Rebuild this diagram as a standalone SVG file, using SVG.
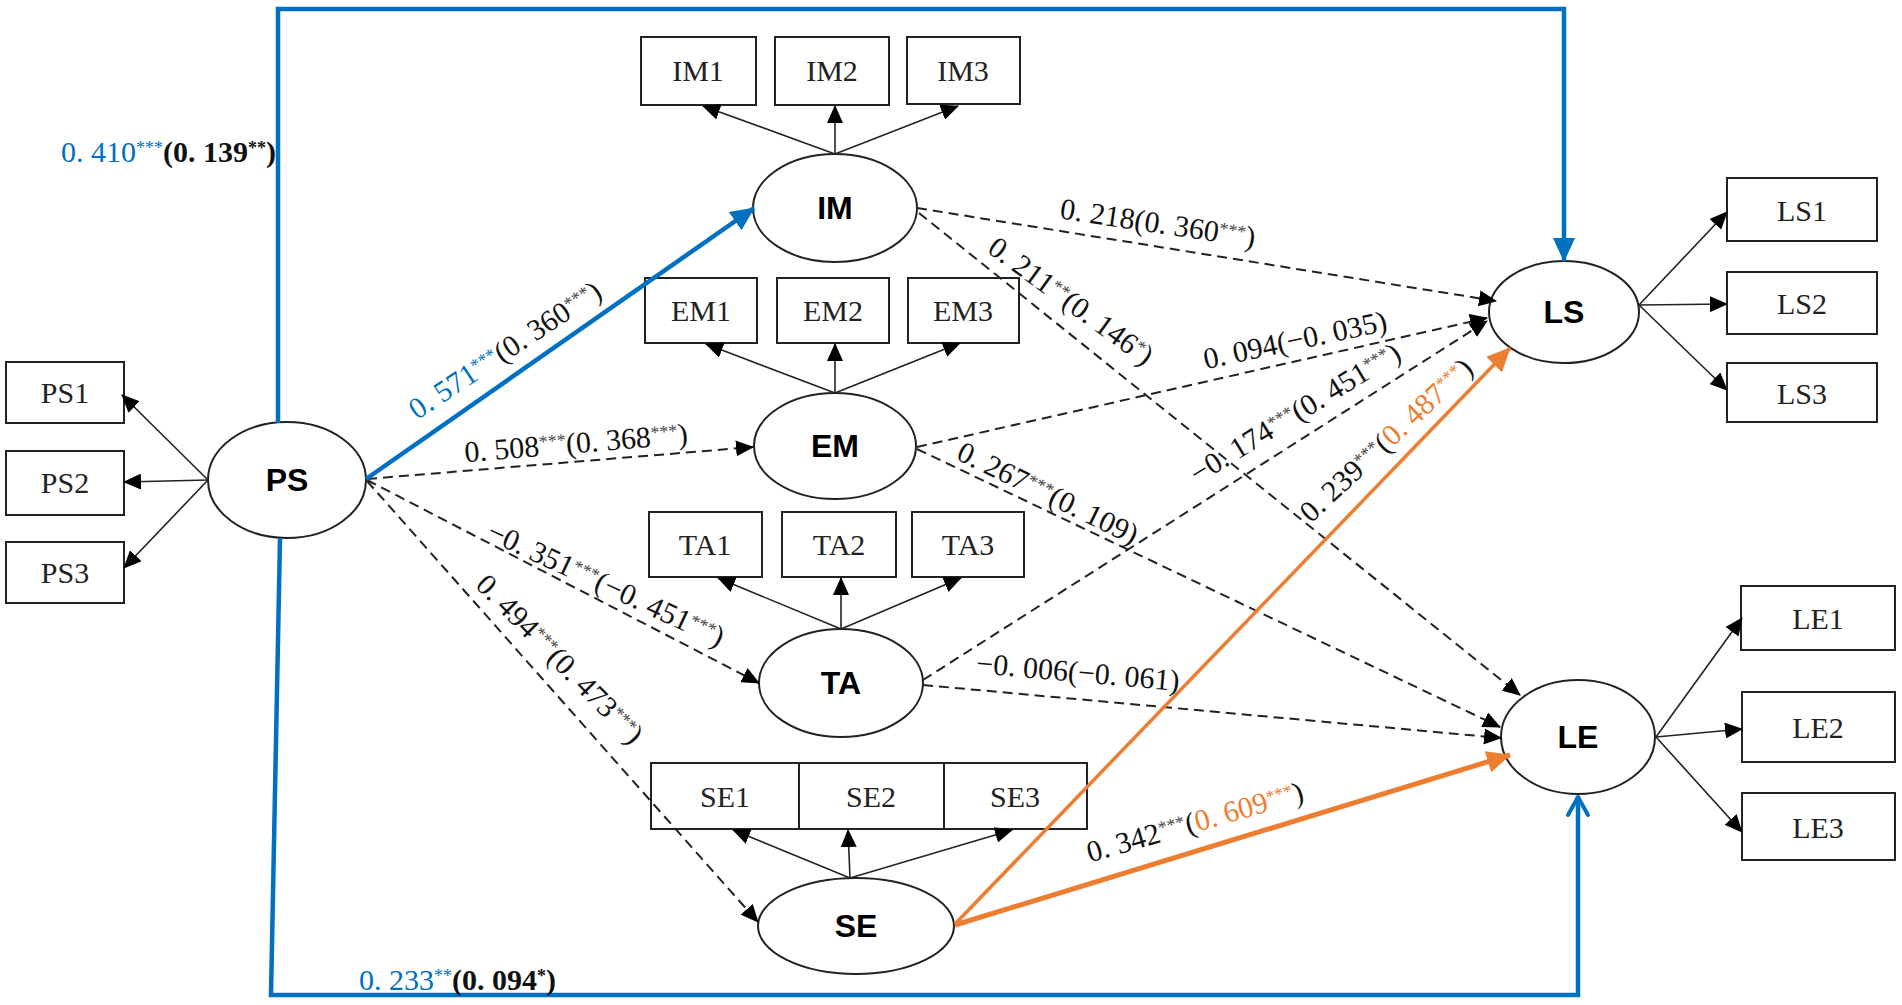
<svg xmlns="http://www.w3.org/2000/svg" width="1902" height="1005" viewBox="0 0 1902 1005">
<style>
.box{fill:none;stroke:#222;stroke-width:2}
.ell{fill:#fff;stroke:#222;stroke-width:2}
.bt{font-family:"Liberation Serif","Times New Roman",serif;font-size:30px;fill:#222;text-anchor:middle}
.nt{font-family:"Liberation Sans",Arial,sans-serif;font-size:32px;font-weight:bold;fill:#000;text-anchor:middle}
.ind{stroke:#222;stroke-width:1.6;fill:none;marker-end:url(#ab)}
.dash{stroke:#222;stroke-width:2;fill:none;stroke-dasharray:10 6;marker-end:url(#ab)}
.lbl{font-family:"Liberation Serif","Times New Roman",serif;font-size:30px;fill:#111;text-anchor:middle}
.lft{text-anchor:start}
.st{font-size:18px;fill:#444}
.blue{fill:#0070C0}
.org{fill:#ED7D31}
.bld{font-weight:bold}
</style>
<defs>
<marker id="ab" markerUnits="userSpaceOnUse" markerWidth="18" markerHeight="16" refX="17" refY="8" orient="auto"><path d="M0,0 L18,8 L0,16 Z" fill="#000"/></marker>
<marker id="abl" markerUnits="userSpaceOnUse" markerWidth="24" markerHeight="22" refX="23" refY="11" orient="auto"><path d="M0,0 L24,11 L0,22 Z" fill="#0070C0"/></marker>
<marker id="aor" markerUnits="userSpaceOnUse" markerWidth="24" markerHeight="22" refX="23" refY="11" orient="auto"><path d="M0,0 L24,11 L0,22 Z" fill="#ED7D31"/></marker>
</defs>
<rect width="1902" height="1005" fill="#fff"/>

<g id="node-PS">
<ellipse class="ell" cx="287" cy="480" rx="79" ry="58"/>
<text class="nt" x="287" y="491">PS</text>
<rect class="box" x="6" y="362" width="118" height="61"/><text class="bt" x="65" y="403">PS1</text>
<rect class="box" x="6" y="451" width="118" height="64"/><text class="bt" x="65" y="493">PS2</text>
<rect class="box" x="6" y="542" width="118" height="61"/><text class="bt" x="65" y="583">PS3</text>
</g>
<g id="node-IM">
<ellipse class="ell" cx="835" cy="208" rx="82" ry="54"/>
<text class="nt" x="835" y="219">IM</text>
<rect class="box" x="641" y="37" width="115" height="68"/><text class="bt" x="698" y="81">IM1</text>
<rect class="box" x="775" y="37" width="114" height="68"/><text class="bt" x="832" y="81">IM2</text>
<rect class="box" x="907" y="37" width="113" height="67"/><text class="bt" x="963" y="81">IM3</text>
</g>
<g id="node-EM">
<ellipse class="ell" cx="835" cy="446" rx="81" ry="53"/>
<text class="nt" x="835" y="457">EM</text>
<rect class="box" x="645" y="278" width="112" height="65"/><text class="bt" x="701" y="321">EM1</text>
<rect class="box" x="777" y="278" width="112" height="65"/><text class="bt" x="833" y="321">EM2</text>
<rect class="box" x="908" y="278" width="111" height="65"/><text class="bt" x="963" y="321">EM3</text>
</g>
<g id="node-TA">
<ellipse class="ell" cx="841" cy="683" rx="82" ry="54"/>
<text class="nt" x="841" y="694">TA</text>
<rect class="box" x="649" y="512" width="113" height="65"/><text class="bt" x="705" y="555">TA1</text>
<rect class="box" x="782" y="512" width="114" height="65"/><text class="bt" x="839" y="555">TA2</text>
<rect class="box" x="912" y="512" width="112" height="65"/><text class="bt" x="968" y="555">TA3</text>
</g>
<g id="node-SE">
<ellipse class="ell" cx="856" cy="926" rx="98" ry="48"/>
<text class="nt" x="856" y="937">SE</text>
<rect class="box" x="651" y="763" width="436" height="66"/>
<line class="box" x1="799" y1="763" x2="799" y2="829"/>
<line class="box" x1="944" y1="763" x2="944" y2="829"/>
<text class="bt" x="725" y="807">SE1</text>
<text class="bt" x="871" y="807">SE2</text>
<text class="bt" x="1015" y="807">SE3</text>
</g>
<g id="node-LS">
<ellipse class="ell" cx="1564" cy="312" rx="75" ry="51"/>
<text class="nt" x="1564" y="323">LS</text>
<rect class="box" x="1727" y="178" width="150" height="63"/><text class="bt" x="1802" y="221">LS1</text>
<rect class="box" x="1727" y="272" width="150" height="62"/><text class="bt" x="1802" y="314">LS2</text>
<rect class="box" x="1727" y="363" width="150" height="59"/><text class="bt" x="1802" y="404">LS3</text>
</g>
<g id="node-LE">
<ellipse class="ell" cx="1578" cy="737" rx="77" ry="57"/>
<text class="nt" x="1578" y="748">LE</text>
<rect class="box" x="1741" y="586" width="154" height="64"/><text class="bt" x="1818" y="629">LE1</text>
<rect class="box" x="1742" y="692" width="153" height="70"/><text class="bt" x="1818" y="738">LE2</text>
<rect class="box" x="1742" y="793" width="153" height="67"/><text class="bt" x="1818" y="838">LE3</text>
</g>

<g id="connectors">
<line class="ind" x1="208" y1="480" x2="122" y2="395"/>
<line class="ind" x1="208" y1="480" x2="124" y2="482"/>
<line class="ind" x1="208" y1="480" x2="124" y2="568"/>
<line class="ind" x1="835" y1="154" x2="703" y2="106"/>
<line class="ind" x1="835" y1="154" x2="835" y2="106"/>
<line class="ind" x1="835" y1="154" x2="958" y2="106"/>
<line class="ind" x1="835" y1="393" x2="706" y2="344"/>
<line class="ind" x1="835" y1="393" x2="835" y2="344"/>
<line class="ind" x1="835" y1="393" x2="960" y2="343"/>
<line class="ind" x1="841" y1="629" x2="718" y2="578"/>
<line class="ind" x1="841" y1="629" x2="841" y2="578"/>
<line class="ind" x1="841" y1="629" x2="961" y2="578"/>
<line class="ind" x1="850" y1="878" x2="733" y2="830"/>
<line class="ind" x1="850" y1="878" x2="848" y2="830"/>
<line class="ind" x1="850" y1="878" x2="1012" y2="830"/>
<line class="ind" x1="1639" y1="305" x2="1727" y2="212"/>
<line class="ind" x1="1639" y1="305" x2="1727" y2="304"/>
<line class="ind" x1="1639" y1="305" x2="1727" y2="390"/>
<line class="ind" x1="1656" y1="737" x2="1742" y2="618"/>
<line class="ind" x1="1656" y1="737" x2="1742" y2="729"/>
<line class="ind" x1="1656" y1="737" x2="1742" y2="832"/>
<line class="dash" x1="367" y1="479" x2="753" y2="447"/>
<line class="dash" x1="367" y1="480" x2="759" y2="683"/>
<line class="dash" x1="367" y1="481" x2="758" y2="922"/>
<line class="dash" x1="917" y1="208" x2="1496" y2="301"/>
<line class="dash" x1="919" y1="213" x2="1520" y2="695"/>
<line class="dash" x1="917" y1="447" x2="1487" y2="318"/>
<line class="dash" x1="923" y1="680" x2="1487" y2="321"/>
<line class="dash" x1="917" y1="449" x2="1500" y2="727"/>
<line class="dash" x1="923" y1="685" x2="1501" y2="738"/>
<line x1="366" y1="479" x2="754" y2="208" stroke="#0070C0" stroke-width="4.5" marker-end="url(#abl)"/>
<path d="M278,423 L278,9 L1564,9 L1564,261" fill="none" stroke="#0070C0" stroke-width="4.5" marker-end="url(#abl)"/>
<path d="M280,538 L271,995 L1578,995 L1578,796" fill="none" stroke="#0070C0" stroke-width="4.5"/>
<path d="M1568,815 L1578,797 L1588,815" fill="none" stroke="#0070C0" stroke-width="4" stroke-linecap="round" stroke-linejoin="round"/>
<line x1="955" y1="924" x2="1510" y2="348" stroke="#ED7D31" stroke-width="3.5" marker-end="url(#aor)"/>
<line x1="955" y1="925" x2="1510" y2="755" stroke="#ED7D31" stroke-width="5" marker-end="url(#aor)"/>
</g>

<g id="labels">
<text class="lbl lft" x="61" y="162"><tspan class="blue">0. 410</tspan><tspan class="st blue" dy="-8">***</tspan><tspan class="bld" dy="8">(0. 139</tspan><tspan class="st bld" dy="-8" style="fill:#111">**</tspan><tspan class="bld" dy="8">)</tspan></text>
<text class="lbl lft" x="359" y="990"><tspan class="blue">0. 233</tspan><tspan class="st blue" dy="-8">**</tspan><tspan class="bld" dy="8">(0. 094</tspan><tspan class="st bld" dy="-8" style="fill:#111">*</tspan><tspan class="bld" dy="8">)</tspan></text>
<text class="lbl" transform="translate(505,350) rotate(-33.5)" y="10"><tspan class="blue">0. 571</tspan><tspan class="st blue" dy="-8">***</tspan><tspan dy="8">(0. 360</tspan><tspan class="st" dy="-8">***</tspan><tspan dy="8">)</tspan></text>
<text class="lbl" transform="translate(576,443) rotate(-4.7)" y="10">0. 508<tspan class="st" dy="-8">***</tspan><tspan dy="8">(0. 368</tspan><tspan class="st" dy="-8">***</tspan><tspan dy="8">)</tspan></text>
<text class="lbl" transform="translate(606,584) rotate(25)" y="10">−0. 351<tspan class="st" dy="-8">***</tspan><tspan dy="8">(−0. 451</tspan><tspan class="st" dy="-8">***</tspan><tspan dy="8">)</tspan></text>
<text class="lbl" transform="translate(560,659) rotate(45.5)" y="10">0. 494<tspan class="st" dy="-8">***</tspan><tspan dy="8">(0. 473</tspan><tspan class="st" dy="-8">***</tspan><tspan dy="8">)</tspan></text>
<text class="lbl" transform="translate(1158,223) rotate(8.5)" y="10">0. 218(0. 360<tspan class="st" dy="-8">***</tspan><tspan dy="8">)</tspan></text>
<text class="lbl" transform="translate(1071,301) rotate(36)" y="10">0. 211<tspan class="st" dy="-8">**</tspan><tspan dy="8">(0. 146</tspan><tspan class="st" dy="-8">*</tspan><tspan dy="8">)</tspan></text>
<text class="lbl" transform="translate(1295,340) rotate(-12)" y="10">0. 094(−0. 035)</text>
<text class="lbl" transform="translate(1295,413) rotate(-31.5)" y="10">−0. 174<tspan class="st" dy="-8">***</tspan><tspan dy="8">(0. 451</tspan><tspan class="st" dy="-8">***</tspan><tspan dy="8">)</tspan></text>
<text class="lbl" transform="translate(1048,493) rotate(26)" y="10">0. 267<tspan class="st" dy="-8">***</tspan><tspan dy="8">(0. 109)</tspan></text>
<text class="lbl" transform="translate(1386,440) rotate(-43)" y="10">0. 239<tspan class="st" dy="-8">***</tspan><tspan dy="8">(</tspan><tspan class="org">0. 487</tspan><tspan class="st org" dy="-8">***</tspan><tspan dy="8">)</tspan></text>
<text class="lbl" transform="translate(1078,672) rotate(5)" y="10">−0. 006(−0. 061)</text>
<text class="lbl" transform="translate(1195,822) rotate(-16)" y="10">0. 342<tspan class="st" dy="-8">***</tspan><tspan dy="8">(</tspan><tspan class="org">0. 609</tspan><tspan class="st org" dy="-8">***</tspan><tspan dy="8">)</tspan></text>
</g>
</svg>
